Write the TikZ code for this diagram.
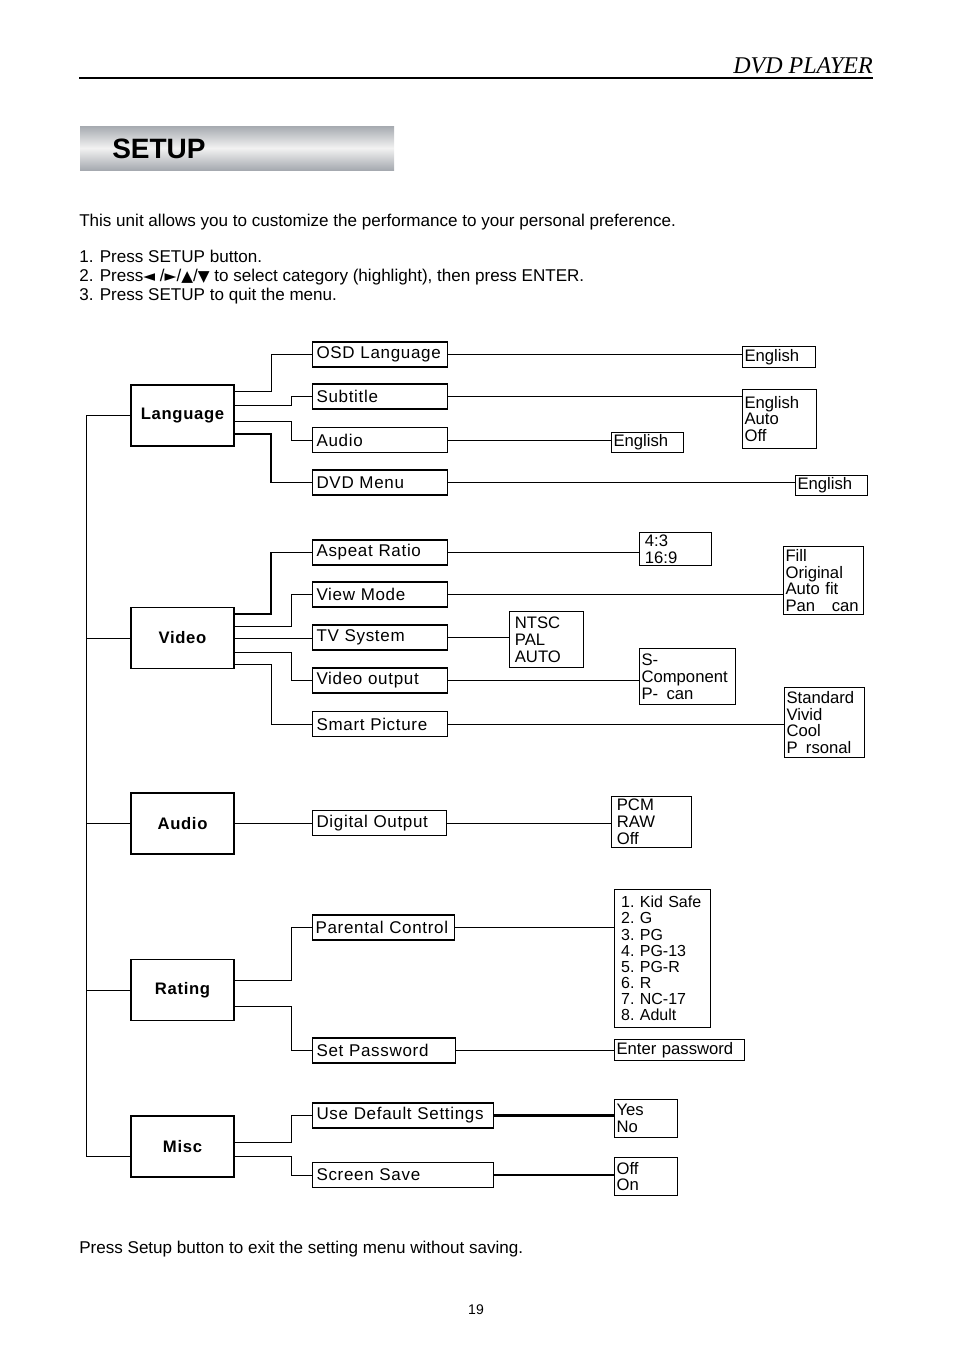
\documentclass[tikz,border=0pt]{standalone}
\usepackage{fontspec}
\setmainfont{Liberation Sans}
\newfontfamily\hdrfont{Liberation Serif}
\newfontfamily\symfont{DejaVu Sans}
\newfontfamily\menufont[LetterSpace=4]{Liberation Sans}
\usetikzlibrary{positioning,calc}
\definecolor{setupgray}{RGB}{166,170,176}
\newcommand{\arrowsym}[1]{{\symfont\fontsize{11.5}{12}\selectfont #1}}

\tikzset{
  catbox/.style={draw, line width=0.8pt, minimum width=77.25pt, minimum height=45.75pt, inner sep=0pt, font=\menufont\fontsize{12.5}{14}\selectfont\bfseries},
  itembox/.style={draw, line width=0.8pt, anchor=west, minimum height=18.75pt, inner xsep=3pt, inner ysep=0pt, align=left, text width=#1, font=\menufont\fontsize{12.75}{14}\selectfont},
  itembox/.default=95.25pt,
  valbox/.style={draw, line width=0.8pt, anchor=north west, inner xsep=1.5pt, inner ysep=0pt, align=left, font=\fontsize{12.5}{12.6}\selectfont\frenchspacing},
  link/.style={line width=0.75pt},
  bodytext/.style={anchor=base west, inner sep=0pt, font=\fontsize{12.8}{15}\selectfont},
}

\begin{document}
\begin{tikzpicture}[x=0.75pt, y=-0.75pt]
    \useasboundingbox (0,0) rectangle (954,1350);

    % Header
    \node[anchor=base east, inner sep=0pt, font=\hdrfont\itshape\fontsize{18}{20}\selectfont] (hdr) at (873,73) {DVD PLAYER};
    \draw[line width=0.8pt] (79,78) -- (873,78);

    % Title bar
    \shade[top color=setupgray, bottom color=setupgray, middle color=white!95!black] (80,126) rectangle (394,170);
    \node[anchor=west, inner sep=0pt, font=\fontsize{21}{24}\selectfont\bfseries] (title) at (112,149) {SETUP};

    % Intro text
    \node[bodytext] (intro) at (79,226) {This unit allows you to customize the performance to your personal preference.};
    \node[bodytext] (stepa) at (79,262) {1. Press SETUP button.};
    \node[bodytext] (stepb) at (79,281) {2. Press\arrowsym{◄} /\arrowsym{►}/\arrowsym{▲}/\arrowsym{▼} to select category (highlight), then press ENTER.};
    \node[bodytext] (stepc) at (79,300) {3. Press SETUP to quit the menu.};

    % Categories
    \node[catbox] (lang) at (182.5,415.5) {Language};
    \node[catbox] (video) at (182.5,638) {Video};
    \node[catbox] (audio) at (182.5,823.5) {Audio};
    \node[catbox] (rating) at (182.5,990) {Rating};
    \node[catbox] (misc) at (182.5,1146.5) {Misc};

    % Trunk
    \coordinate (trunktop) at (86,415.5);
    \coordinate (trunkbot) at (86,1156);
    \draw[link] (lang.west) -- (trunktop) -- (trunkbot) -- (misc.west |- trunkbot);
    \draw[link] (video.west) -- (video.west -| trunktop);
    \draw[line width=1.4pt] (audio.west) -- (audio.west -| trunktop);
    \draw[link] (rating.west) -- (rating.west -| trunktop);

    % Language items
    \node[itembox] (osd) at (312,354.5) {OSD Language};
    \node[itembox] (subt) at (312,396.5) {Subtitle};
    \node[itembox] (laudio) at (312,440) {Audio};
    \node[itembox] (dvdm) at (312,482.5) {DVD Menu};

    \draw[link] (lang.east |- 0,391) -- (271,391) |- (osd.west);
    \draw[link] (lang.east |- 0,405) -- (291,405) |- (subt.west);
    \draw[link] (lang.east |- 0,421) -- (291,421) |- (laudio.west);
    \draw[line width=1.2pt] (lang.east |- 0,434) -- (271,434) |- (dvdm.west);

    % Language values
    \node[valbox, text width=51.75pt, minimum height=15.75pt] (osdval) at (742,346) {English};
    \node[valbox, text width=52.5pt, minimum height=44.25pt] (subtval) at (742,389) {English\\Auto\\Off};
    \node[valbox, text width=51pt, minimum height=15pt] (laudioval) at (611,432) {English};
    \node[valbox, text width=51pt, minimum height=15pt] (dvdmval) at (795,475) {English};

    \draw[link] (osd.east) -- (osd.east -| osdval.west);
    \draw[link] (subt.east) -- (subt.east -| subtval.west);
    \draw[link] (laudio.east) -- (laudio.east -| laudioval.west);
    \draw[link] (dvdm.east) -- (dvdm.east -| dvdmval.west);

    % Video items
    \node[itembox] (asp) at (312,552.5) {Aspeat Ratio};
    \node[itembox] (vmode) at (312,594.5) {View Mode};
    \node[itembox] (tvsys) at (312,637.5) {TV System};
    \node[itembox] (vout) at (312,680.5) {Video output};
    \node[itembox] (smart) at (312,724) {Smart Picture};

    \draw[line width=1.2pt] (video.east |- 0,614) -- (271,614) |- (asp.west);
    \draw[link] (video.east |- 0,626) -- (291,626) |- (vmode.west);
    \draw[link] (video.east) -- (video.east -| tvsys.west);
    \draw[link] (video.east |- 0,652) -- (291,652) |- (vout.west);
    \draw[link] (video.east |- 0,664) -- (271,664) |- (smart.west);

    % Video values
    \node[valbox, inner xsep=4pt, text width=46pt, minimum height=24.75pt] (aspval) at (639,532) {4:3\\16:9};
    \node[valbox, text width=57pt, minimum height=51pt] (vmodeval) at (783,546) {Fill\\Original\\Auto fit\\Pan\quad can};
    \node[valbox, inner xsep=4pt, text width=47.5pt, minimum height=42pt] (tvsysval) at (509,611) {NTSC\\PAL\\AUTO};
    \node[valbox, text width=69pt, minimum height=42pt] (voutval) at (639,648) {S-\\Component\\P-\enspace can};
    \node[valbox, text width=57pt, minimum height=52.5pt] (smartval) at (784,687) {Standard\\Vivid\\Cool\\P\enspace rsonal};

    \draw[link] (asp.east) -- (asp.east -| aspval.west);
    \draw[link] (vmode.east) -- (vmode.east -| vmodeval.west);
    \draw[link] (tvsys.east) -- (tvsys.east -| tvsysval.west);
    \draw[link] (vout.east) -- (vout.east -| voutval.west);
    \draw[link] (smart.east) -- (smart.east -| smartval.west);

    % Audio
    \node[itembox=94.5pt] (digout) at (312,823) {Digital Output};
    \node[valbox, inner xsep=4pt, text width=52pt, minimum height=38.25pt] (digval) at (611,796) {PCM\\RAW\\Off};
    \draw[line width=1.4pt] (audio.east) -- (audio.east -| digout.west);
    \draw[link] (digout.east) -- (digout.east -| digval.west);

    % Rating
    \node[itembox=102pt, inner xsep=2.25pt] (parc) at (312,927.5) {Parental Control};
    \node[itembox=101.25pt] (setpw) at (312,1050.5) {Set Password};
    \draw[link] (rating.east |- 0,980) -- (291,980) |- (parc.west);
    \draw[link] (rating.east |- 0,1006) -- (291,1006) |- (setpw.west);

    \node[valbox, inner xsep=5pt, text width=62pt, minimum height=103.5pt, font=\fontsize{12}{12.1}\selectfont\frenchspacing] (parcval) at (614,889) {1. Kid Safe\\2. G\\3. PG\\4. PG-13\\5. PG-R\\6. R\\7. NC-17\\8. Adult};
    \node[valbox, text width=94.5pt, minimum height=15.75pt] (setpwval) at (614,1039) {Enter password};
    \draw[link] (parc.east) -- (parc.east -| parcval.west);
    \draw[link] (setpw.east) -- (setpw.east -| setpwval.west);

    % Misc
    \node[itembox=129.75pt] (usedef) at (312,1115.5) {Use Default Settings};
    \node[itembox=129.75pt] (scrsave) at (312,1175) {Screen Save};
    \draw[link] (misc.east |- 0,1142) -- (291,1142) |- (usedef.west);
    \draw[link] (misc.east |- 0,1156) -- (291,1156) |- (scrsave.west);

    \node[valbox, text width=44.25pt, minimum height=28.5pt] (usedefval) at (614,1099) {Yes\\No};
    \node[valbox, text width=44.25pt, minimum height=28.5pt] (scrsaveval) at (614,1157) {Off\\On};
    \draw[line width=1.6pt] (usedef.east) -- (usedef.east -| usedefval.west);
    \draw[line width=1.6pt] (scrsave.east) -- (scrsave.east -| scrsaveval.west);

    % Footer
    \node[bodytext] (note) at (79,1253) {Press Setup button to exit the setting menu without saving.};
    \node[anchor=base, inner sep=0pt, font=\fontsize{10.5}{12}\selectfont] (pagenum) at (476,1314) {19};
\end{tikzpicture}
\end{document}
